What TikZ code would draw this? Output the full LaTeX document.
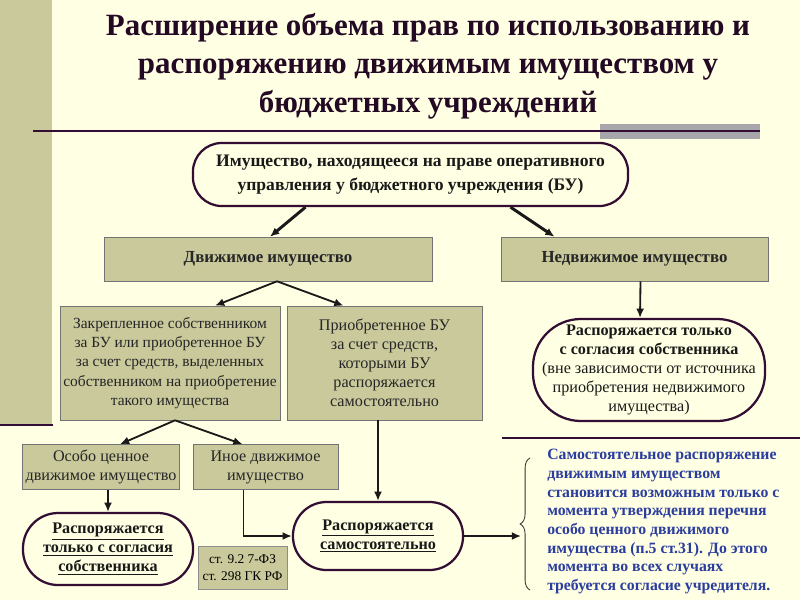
\documentclass[tikz,border=0pt]{standalone}
\usepackage{fontspec}
\setmainfont{Liberation Serif}
\usepackage{tikz}
\usetikzlibrary{arrows.meta,calc,positioning,decorations.pathreplacing}
\definecolor{lightcream}{rgb}{1.00,1.00,0.89}
\definecolor{oldkhaki}{rgb}{0.79,0.79,0.61}
\definecolor{plumdark}{rgb}{0.20,0.05,0.20}
\definecolor{silvergray}{rgb}{0.65,0.65,0.67}
\definecolor{inkblue}{rgb}{0.17,0.24,0.62}
\tikzset{
  blok/.style={
    draw=black!55,
    fill=oldkhaki,
    align=center,
    inner sep=1pt,
    text=black!85,
    font=\fontsize{11.5}{13.6}\selectfont
  },
  oval/.style={
    draw=plumdark,
    line width=1.6pt,
    fill=lightcream,
    align=center,
    inner sep=2pt,
    text=black!90,
    font=\bfseries\fontsize{11.5}{13.6}\selectfont
  },
  ssylka/.style={
    draw=black!45,
    fill=oldkhaki,
    align=center,
    inner sep=1pt,
    font=\fontsize{9.5}{12}\selectfont
  },
  arrow/.style={
    -{Latex[length=2.3mm,width=2mm]},
    line width=1.3pt,
    black!90
  },
  bigarrow/.style={
    arrow,
    line width=2.1pt
  }
}

\begin{document}
\begin{tikzpicture}[x=0.025cm,y=-0.025cm]
\fill[lightcream] (0,0) rectangle (800,600);
\useasboundingbox (0,0) rectangle (800,600);
\fill[oldkhaki] (0,0) rectangle (52,425);
\draw[plumdark,line width=2pt] (0,425) -- (53,425);
\fill[silvergray] (600,124) rectangle (760,139);
\draw[plumdark,line width=1.3pt] (33,131) -- (760,131);
\draw[plumdark,line width=1pt] (502,438) -- (800,438);

\node[align=center,text=plumdark!70!black,font=\bfseries\fontsize{22}{27.5}\selectfont] (title) at (428,66)
  {Расширение объема прав по использованию и\\распоряжению движимым имуществом у\\бюджетных учреждений};

\node[oval,rounded corners=0.72cm,minimum width=10.875cm,minimum height=1.575cm,font=\bfseries\fontsize{12.5}{17}\selectfont] (imush) at (410.5,174.5)
  {Имущество, находящееся на праве оперативного\\управления у бюджетного учреждения (БУ)};
\node[blok,minimum width=8.2cm,minimum height=1.1cm,font=\bfseries\fontsize{12}{14}\selectfont] (dvizh) at (268,259) {Движимое имущество};
\node[blok,minimum width=6.675cm,minimum height=1.1cm,font=\bfseries\fontsize{12}{14}\selectfont] (nedv) at (634.5,259) {Недвижимое имущество};
\node[oval,rounded corners=1.2cm,minimum width=5.8cm,minimum height=2.55cm] (soglasie) at (649,370)
  {Распоряжается только\\с согласия собственника\\{\mdseries (вне зависимости от источника}\\{\mdseries приобретения недвижимого}\\{\mdseries имущества)}};
\node[blok,minimum width=5.5cm,minimum height=2.85cm,font=\fontsize{11}{13.6}\selectfont] (zakr) at (170,363)
  {Закрепленное собственником\\за БУ или приобретенное БУ\\за счет средств, выделенных\\собственником на приобретение\\такого имущества};
\node[blok,minimum width=4.875cm,minimum height=2.85cm] (prio) at (384.5,363)
  {Приобретенное БУ\\за счет средств,\\которыми БУ\\распоряжается\\самостоятельно};
\node[blok,minimum width=3.925cm,minimum height=1.125cm] (osobo) at (101,467) {Особо ценное\\движимое имущество};
\node[blok,minimum width=3.625cm,minimum height=1.125cm] (ine) at (265.5,467) {Иное движимое\\имущество};
\node[oval,rounded corners=0.88cm,minimum width=4.25cm,minimum height=1.8cm] (sogl2) at (108,549)
  {\underline{Распоряжается}\\\underline{только с согласия}\\\underline{собственника}};
\node[oval,rounded corners=0.84cm,minimum width=4.25cm,minimum height=1.7cm] (samost) at (378,536)
  {\underline{Распоряжается}\\\underline{самостоятельно}};
\node[ssylka,minimum width=2.225cm,minimum height=1.075cm] (stat) at (242.5,567.5) {ст. 9.2 7-ФЗ\\ст. 298 ГК РФ};
\node[anchor=north west,align=left,inner sep=0pt,text=inkblue,font=\bfseries\fontsize{11.2}{13.3}\selectfont] (poyasn) at (547,449)
  {Самостоятельное распоряжение\\движимым имуществом\\становится возможным только с\\момента утверждения перечня\\особо ценного движимого\\имущества (п.5 ст.31). До этого\\момента во всех случаях\\требуется согласие учредителя.};

\coordinate (brace bottom) at (530,590);
\coordinate (brace top) at (530,458);
\coordinate (brace tip) at (521,536);
\draw[black!80,line width=0.6pt,decorate,decoration={brace,amplitude=7pt}] (brace bottom) -- (brace top);

\draw[bigarrow] ($(imush.south)+(-105,0)$) -- ($(dvizh.north)+(2,0)$);
\draw[bigarrow] ($(imush.south)+(100,0)$) -- ($(nedv.north)+(-80,0)$);
\draw[arrow] ($(nedv.south)+(6,0)$) -- ($(soglasie.north)+(-9,0)$);
\draw[arrow] ($(dvizh.south)+(9,0)$) -- ($(zakr.north)+(45,0)$);
\draw[arrow] ($(dvizh.south)+(9,0)$) -- ($(prio.north)+(-41,0)$);
\draw[arrow] ($(zakr.south)+(5,0)$) -- ($(osobo.north)+(19,0)$);
\draw[arrow] ($(zakr.south)+(5,0)$) -- ($(ine.north)+(-23,0)$);
\draw[arrow] (osobo.south -| sogl2.north) -- (sogl2.north);
\draw[arrow] ($(ine.south)+(-22,0)$) |- (samost.west);
\draw[arrow] (prio.south -| samost.north) -- (samost.north);
\draw[arrow] (samost.east) -- (brace tip);
\end{tikzpicture}
\end{document}
